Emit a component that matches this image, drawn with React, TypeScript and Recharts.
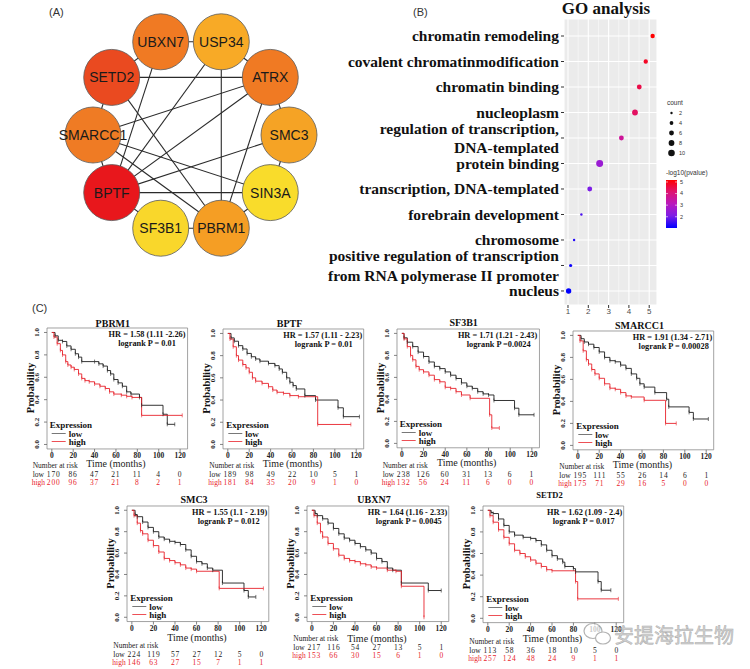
import React from 'react';
import {
  ScatterChart, Scatter, LineChart, Line, XAxis, YAxis,
  CartesianGrid, ReferenceArea, ReferenceLine,
} from 'recharts';

const SERIF = '"Liberation Serif", "Times New Roman", serif';
const SANS = '"Liberation Sans", Arial, sans-serif';
const CJK = '"Noto Sans CJK SC", sans-serif';

// ---------------- Panel A : PPI network ----------------
const geneNames = ['UBXN7', 'USP34', 'ATRX', 'SMC3', 'SIN3A', 'PBRM1', 'SF3B1', 'BPTF', 'SMARCC1', 'SETD2'];
const geneColors = ['#f07a23', '#f8aa26', '#f07a23', '#f5a325', '#f9dc2b', '#f59e24', '#f9d72b', '#e8171c', '#ef7b24', '#ea4a20'];
const geneEdges: [string, string][] = [
  ['UBXN7', 'USP34'], ['UBXN7', 'SETD2'], ['UBXN7', 'BPTF'], ['USP34', 'ATRX'], ['USP34', 'BPTF'],
  ['USP34', 'PBRM1'], ['ATRX', 'SETD2'], ['ATRX', 'SMARCC1'], ['ATRX', 'BPTF'], ['ATRX', 'PBRM1'],
  ['ATRX', 'SMC3'], ['SMC3', 'BPTF'], ['SMC3', 'SIN3A'], ['SIN3A', 'SMARCC1'], ['SIN3A', 'BPTF'],
  ['SIN3A', 'PBRM1'], ['PBRM1', 'SETD2'], ['PBRM1', 'SMARCC1'], ['PBRM1', 'SF3B1'], ['SF3B1', 'BPTF'],
  ['BPTF', 'SMARCC1'], ['SMARCC1', 'SETD2'],
];

// ---------------- Panel B : GO analysis ----------------
const goTerms = [
  'chromatin remodeling',
  'covalent chromatinmodification',
  'chromatin binding',
  'nucleoplasm',
  'regulation of transcription,\nDNA-templated',
  'protein binding',
  'transcription, DNA-templated',
  'forebrain development',
  'chromosome',
  'positive regulation of transcription\nfrom RNA polymerase II promoter',
  'nucleus',
];
const goScore = [5.17, 4.83, 4.51, 4.3, 3.63, 2.56, 2.07, 1.66, 1.3, 1.13, 1.03];
const goLogP = [5.17, 4.83, 4.51, 4.3, 3.63, 2.56, 2.07, 1.66, 1.3, 1.13, 1.03];
const goCount = [5, 5, 6, 8, 6, 11, 6, 2, 2, 3, 7];
const goXTicks = [1, 2, 3, 4, 5];
const goMinor = [1.5, 2.5, 3.5, 4.5];
const countLegend = [2, 4, 6, 8, 10];
const pLegend = [5, 4, 3, 2];

// ---------------- Panel C : Kaplan-Meier ----------------
const kmXTicks = [0, 20, 40, 60, 80, 100, 120];
const kmYTicks = [0, 0.2, 0.4, 0.6, 0.8, 1];

const pbrm1Low = [[0, 1], [3, 0.97], [6, 0.93], [10, 0.92], [14, 0.88], [18, 0.85], [22, 0.81], [25, 0.78], [28, 0.74], [40, 0.74], [44, 0.72], [48, 0.7], [52, 0.66], [55, 0.63], [58, 0.58], [62, 0.55], [66, 0.52], [70, 0.47], [74, 0.45], [82, 0.42], [84, 0.35], [104, 0.27], [108, 0.18], [115, 0.18]];
const pbrm1High = [[0, 1], [2, 0.96], [5, 0.9], [8, 0.84], [10, 0.8], [13, 0.74], [15, 0.71], [18, 0.69], [21, 0.67], [25, 0.63], [28, 0.59], [31, 0.57], [35, 0.56], [40, 0.54], [45, 0.52], [50, 0.5], [54, 0.47], [58, 0.45], [65, 0.44], [70, 0.43], [75, 0.42], [84, 0.26], [122, 0.26]];
const bptfLow = [[0, 1], [3, 0.96], [6, 0.93], [10, 0.89], [14, 0.86], [18, 0.82], [22, 0.79], [26, 0.77], [30, 0.75], [38, 0.73], [44, 0.71], [48, 0.68], [51, 0.65], [55, 0.6], [58, 0.56], [61, 0.53], [64, 0.5], [72, 0.44], [82, 0.4], [103, 0.33], [108, 0.25], [123, 0.25]];
const bptfHigh = [[0, 1], [2, 0.95], [5, 0.88], [8, 0.8], [10, 0.76], [14, 0.72], [17, 0.69], [20, 0.65], [23, 0.6], [26, 0.57], [32, 0.55], [38, 0.52], [42, 0.49], [46, 0.47], [52, 0.46], [58, 0.44], [66, 0.43], [84, 0.18], [115, 0.18]];
const sf3b1Low = [[0, 1], [2, 0.96], [5, 0.92], [10, 0.88], [15, 0.83], [20, 0.79], [25, 0.74], [30, 0.7], [35, 0.68], [40, 0.65], [45, 0.62], [50, 0.59], [55, 0.55], [60, 0.52], [65, 0.5], [70, 0.47], [75, 0.45], [80, 0.44], [85, 0.39], [104, 0.32], [108, 0.26], [122, 0.26]];
const sf3b1High = [[0, 1], [2, 0.95], [5, 0.88], [8, 0.8], [10, 0.76], [13, 0.7], [16, 0.67], [20, 0.65], [25, 0.62], [30, 0.58], [35, 0.56], [40, 0.51], [45, 0.5], [50, 0.47], [55, 0.44], [63, 0.41], [81, 0.26], [83, 0.14], [90, 0.14]];
const smarcc1Low = [[0, 1], [3, 0.97], [6, 0.94], [10, 0.92], [15, 0.89], [20, 0.85], [25, 0.8], [30, 0.77], [35, 0.76], [40, 0.73], [45, 0.7], [50, 0.65], [55, 0.61], [58, 0.56], [62, 0.53], [72, 0.48], [83, 0.42], [85, 0.35], [104, 0.3], [108, 0.24], [122, 0.24]];
const smarcc1High = [[0, 1], [2, 0.95], [5, 0.86], [8, 0.78], [10, 0.74], [13, 0.69], [16, 0.65], [20, 0.61], [25, 0.56], [30, 0.52], [35, 0.51], [40, 0.48], [45, 0.45], [50, 0.44], [62, 0.41], [82, 0.2], [92, 0.2]];
const smc3Low = [[0, 1], [3, 0.96], [5, 0.94], [10, 0.89], [15, 0.84], [20, 0.8], [25, 0.75], [30, 0.73], [35, 0.71], [40, 0.7], [45, 0.68], [50, 0.63], [55, 0.57], [60, 0.52], [65, 0.5], [70, 0.46], [75, 0.44], [84, 0.32], [104, 0.25], [108, 0.19], [115, 0.19]];
const smc3High = [[0, 1], [2, 0.95], [5, 0.88], [8, 0.81], [10, 0.78], [15, 0.72], [20, 0.67], [25, 0.61], [30, 0.55], [35, 0.53], [40, 0.51], [45, 0.49], [50, 0.46], [55, 0.45], [60, 0.43], [81, 0.27], [122, 0.27]];
const ubxn7Low = [[0, 1], [3, 0.97], [5, 0.95], [10, 0.92], [15, 0.88], [20, 0.83], [25, 0.78], [30, 0.74], [35, 0.72], [40, 0.69], [45, 0.66], [50, 0.63], [55, 0.6], [60, 0.55], [65, 0.52], [70, 0.46], [75, 0.44], [83, 0.32], [108, 0.25], [120, 0.25]];
const ubxn7High = [[0, 1], [2, 0.95], [5, 0.88], [8, 0.8], [10, 0.75], [15, 0.69], [20, 0.64], [25, 0.58], [30, 0.55], [35, 0.53], [40, 0.52], [45, 0.5], [50, 0.49], [55, 0.47], [60, 0.46], [70, 0.44], [78, 0.43], [83, 0.29], [104, 0]];
const setd2Low = [[0, 1], [3, 0.98], [5, 0.97], [10, 0.92], [15, 0.86], [20, 0.8], [25, 0.77], [33, 0.75], [40, 0.74], [45, 0.72], [50, 0.68], [55, 0.63], [60, 0.58], [65, 0.55], [70, 0.52], [72, 0.48], [80, 0.46], [82, 0.43], [103, 0.34], [106, 0.26], [115, 0.26]];
const setd2High = [[0, 1], [2, 0.95], [5, 0.89], [10, 0.82], [15, 0.75], [20, 0.69], [25, 0.63], [30, 0.6], [35, 0.57], [40, 0.54], [45, 0.51], [50, 0.48], [55, 0.45], [60, 0.44], [82, 0.34], [84, 0.18], [122, 0.18]];

const pbrm1Risk = [[170, 86, 47, 21, 11, 4, 0], [200, 96, 37, 21, 8, 2, 1]];
const bptfRisk = [[189, 98, 49, 22, 10, 5, 1], [181, 84, 35, 20, 9, 1, 0]];
const sf3b1Risk = [[238, 126, 60, 31, 13, 6, 1], [132, 56, 24, 11, 6, 0, 0]];
const smarcc1Risk = [[195, 111, 55, 26, 14, 6, 1], [175, 71, 29, 16, 5, 0, 0]];
const smc3Risk = [[224, 119, 57, 27, 12, 5, 0], [146, 63, 27, 15, 7, 1, 1]];
const ubxn7Risk = [[217, 116, 54, 27, 13, 5, 1], [153, 66, 30, 15, 6, 1, 0]];
const setd2Risk = [[113, 58, 36, 18, 10, 5, 0], [257, 124, 48, 24, 9, 1, 1]];

const kmTitles = ['PBRM1', 'BPTF', 'SF3B1', 'SMARCC1', 'SMC3', 'UBXN7', 'SETD2'];
const kmHR = [
  'HR = 1.58 (1.11 -2.26)', 'HR = 1.57 (1.11 - 2.23)', 'HR = 1.71 (1.21 - 2.43)', 'HR = 1.91 (1.34 - 2.71)',
  'HR = 1.55 (1.1 - 2.19)', 'HR = 1.64 (1.16 - 2.33)', 'HR = 1.62 (1.09 - 2.4)',
];
const kmP = [
  'logrank P = 0.01', 'logrank P = 0.01', 'logrank P =0.0024', 'logrank P = 0.00028',
  'logrank P = 0.012', 'logrank P = 0.0045', 'logrank P = 0.017',
];

// layout (pixel placement of each KM panel)
const kmLayout = [
  { x0: 51.7, x120: 180, y1: 332, y0: 444, titleY: 323, titleSize: 10, tickY: 454.5, timeY: 463, riskY: 465 },
  { x0: 228.3, x120: 356.7, y1: 333, y0: 444, titleY: 323, titleSize: 10, tickY: 454.5, timeY: 463, riskY: 465 },
  { x0: 401.7, x120: 531.7, y1: 333, y0: 443, titleY: 322, titleSize: 10, tickY: 454, timeY: 462.5, riskY: 465 },
  { x0: 578.3, x120: 706.7, y1: 335, y0: 445, titleY: 325, titleSize: 10, tickY: 455.5, timeY: 464, riskY: 466 },
  { x0: 132.3, x120: 261.7, y1: 510, y0: 617, titleY: 499, titleSize: 10, tickY: 628, timeY: 637.5, riskY: 645 },
  { x0: 312.3, x120: 441.7, y1: 510, y0: 617, titleY: 499, titleSize: 10, tickY: 628.5, timeY: 638, riskY: 638 },
  { x0: 488.3, x120: 616.7, y1: 510, y0: 618, titleY: 495, titleSize: 8.5, tickY: 629, timeY: 638, riskY: 641 },
];
const kmSeries = [
  [pbrm1Low, pbrm1High, pbrm1Risk], [bptfLow, bptfHigh, bptfRisk], [sf3b1Low, sf3b1High, sf3b1Risk],
  [smarcc1Low, smarcc1High, smarcc1Risk], [smc3Low, smc3High, smc3Risk], [ubxn7Low, ubxn7High, ubxn7Risk],
  [setd2Low, setd2High, setd2Risk],
];

// ---------------- helpers ----------------
const colorStops: [number, number[]][] = [
  [0, [0, 0, 255]], [0.25, [125, 30, 230]], [0.5, [185, 25, 190]], [0.75, [222, 20, 115]], [1, [255, 0, 0]],
];
const PMIN = 1.03, PMAX = 5.17;
function goColor(v: number) {
  const t = Math.max(0, Math.min(1, (v - PMIN) / (PMAX - PMIN)));
  for (let k = 1; k < colorStops.length; k++) {
    const [t1, c1] = colorStops[k];
    const [t0, c0] = colorStops[k - 1];
    if (t <= t1) {
      const f = (t - t0) / (t1 - t0);
      const c = c0.map((a, j) => Math.round(a + (c1[j] - a) * f));
      return `rgb(${c[0]},${c[1]},${c[2]})`;
    }
  }
  return 'rgb(255,0,0)';
}
const dotR = (count: number) => 1.2 * Math.sqrt(count) - 0.5;

// ---------------- Panel A chart ----------------
const NET_R = 98; // px per unit radius
const NET_HALF = 135;
const netD = NET_HALF / NET_R;
const netNodes = geneNames.map((name, i) => {
  const a = ((108 - 36 * i) * Math.PI) / 180;
  return { name, color: geneColors[i], x: Math.cos(a), y: Math.sin(a) };
});
const nodeByName: Record<string, any> = {};
netNodes.forEach((n) => { nodeByName[n.name] = n; });

const EmptyShape = () => <g />;
const NodeShape = (p: any) => (
  <g>
    <circle cx={p.cx} cy={p.cy} r={28} fill={p.payload.color} stroke="#5a5a5a" strokeWidth={0.8} />
    <text x={p.cx} y={p.cy} dy="0.36em" textAnchor="middle" fontFamily={SANS} fontSize={14} fill="#1a1a1a">
      {p.payload.name}
    </text>
  </g>
);

function Network() {
  return (
    <div style={{ position: 'absolute', left: 191 - NET_HALF, top: 135 - NET_HALF }}>
      <ScatterChart width={NET_HALF * 2} height={NET_HALF * 2} margin={{ top: 0, right: 0, bottom: 0, left: 0 }}>
        <XAxis type="number" dataKey="x" domain={[-netD, netD]} hide />
        <YAxis type="number" dataKey="y" domain={[-netD, netD]} hide />
        {geneEdges.map(([a, b], k) => (
          <Scatter
            key={`e${k}`}
            data={[nodeByName[a], nodeByName[b]]}
            line={{ stroke: '#2b2b2b', strokeWidth: 1.1 }}
            shape={EmptyShape}
            fill="#2b2b2b"
            isAnimationActive={false}
          />
        ))}
        <Scatter data={netNodes} shape={NodeShape} isAnimationActive={false} />
      </ScatterChart>
    </div>
  );
}

// ---------------- Panel B chart ----------------
const goData = goTerms.map((term, i) => ({ i, term, x: goScore[i], lp: goLogP[i], count: goCount[i] }));
const GoTick = (p: any) => {
  const idx = Math.round(p.payload.value);
  const lines = (goTerms[idx] || '').split('\n');
  const first = 0.35 - (lines.length - 1) * 0.625;
  return (
    <text x={p.x} y={p.y} textAnchor="end" fontFamily={SERIF} fontWeight="bold" fontSize={15.5} fill="#111">
      {lines.map((l, k) => (
        <tspan key={k} x={p.x} dy={k === 0 ? `${first}em` : '1.25em'}>{l}</tspan>
      ))}
    </text>
  );
};
const GoDot = (p: any) => (
  <circle cx={p.cx} cy={p.cy} r={dotR(p.payload.count)} fill={goColor(p.payload.lp)} />
);

const GO_LEFT = 300;
function GoChart() {
  return (
    <div style={{ position: 'absolute', left: GO_LEFT, top: 0 }}>
      <ScatterChart width={657 - GO_LEFT} height={320} margin={{ top: 19, right: 0, bottom: 0, left: 0 }}>
        <CartesianGrid fill="#ebebeb" stroke="#ffffff" strokeWidth={1.1} />
        <XAxis
          type="number" dataKey="x" domain={[0.803, 5.384]} ticks={goXTicks} interval={0}
          height={15} tickSize={3} tickMargin={0} axisLine={false}
          tickLine={{ stroke: '#333' }} tick={{ fontSize: 8, fill: '#4d4d4d', fontFamily: SANS }}
          allowDataOverflow
        />
        <YAxis
          type="number" dataKey="i" domain={[-0.667, 10.55]} reversed ticks={goTerms.map((_, i) => i)}
          interval={0} width={564 - GO_LEFT} tickSize={3} tickMargin={2} axisLine={false}
          tickLine={{ stroke: '#333' }} tick={<GoTick />} allowDataOverflow
        />
        {goMinor.map((v) => (
          <ReferenceLine key={v} x={v} stroke="#ffffff" strokeWidth={0.5} />
        ))}
        <Scatter data={goData} shape={GoDot} isAnimationActive={false} />
      </ScatterChart>
    </div>
  );
}

// ---------------- Panel C chart ----------------
const XD: [number, number] = [-4.5, 127];
const YD: [number, number] = [-0.04, 1.04];
const KM_BLACK = '#1e1e1e';
const KM_RED = '#e8232b';

const censorDot = (color: string) => (p: any) => {
  const key = `c-${p.index}`;
  if (p.index === 0 || p.cx == null) return <g key={key} />;
  return <line key={key} x1={p.cx} x2={p.cx} y1={p.cy - 2} y2={p.cy + 2} stroke={color} strokeWidth={0.6} />;
};

function KMPlot({ idx }: { idx: number }) {
  const L = kmLayout[idx];
  const [lowArr, highArr, risk] = kmSeries[idx] as any;
  const ppm = (L.x120 - L.x0) / 120;
  const ppu = L.y0 - L.y1;
  const bl = L.x0 + XD[0] * ppm;
  const br = L.x0 + XD[1] * ppm;
  const bt = L.y0 - YD[1] * ppu;
  const bb = L.y0 - YD[0] * ppu;
  const M = 26;
  const AX = 20;
  const W = br - bl + 2 * M;
  const H = bb - bt + 2 * M;
  const originY = bt - M;
  const lowData = lowArr.map((d: number[]) => ({ t: d[0], s: d[1] }));
  const highData = highArr.map((d: number[]) => ({ t: d[0], s: d[1] }));

  const XTick = (p: any) => (
    <text x={p.x} y={L.tickY - originY} dy="0.35em" textAnchor="middle" fontFamily={SERIF}
      fontWeight="bold" fontSize={7.5} fill="#222">{p.payload.value}</text>
  );
  const YTick = (p: any) => (
    <text transform={`translate(${M - 10},${p.y}) rotate(-90)`} dy="0.35em" textAnchor="middle"
      fontFamily={SERIF} fontWeight="bold" fontSize={7} fill="#222">{Number(p.payload.value).toFixed(1)}</text>
  );

  const midX = (L.x0 + L.x120) / 2;
  const midY = (L.y0 + L.y1) / 2;
  const tickX = (t: number) => L.x0 + t * ppm;

  return (
    <>
      <div style={{ position: 'absolute', left: bl - M, top: bt - M }}>
        <LineChart width={W} height={H} margin={{ top: M, right: M, bottom: M - AX, left: M - AX }}>
          <XAxis type="number" dataKey="t" domain={XD} ticks={kmXTicks} interval={0} height={AX}
            tickSize={3} axisLine={false} tickLine={{ stroke: '#666', strokeWidth: 0.8 }} tick={<XTick />} allowDataOverflow />
          <YAxis type="number" domain={YD} ticks={kmYTicks} interval={0} width={AX}
            tickSize={3} tickMargin={4} axisLine={false} tickLine={{ stroke: '#666', strokeWidth: 0.8 }} tick={<YTick />} allowDataOverflow />
          <ReferenceArea x1={XD[0]} x2={XD[1]} y1={YD[0]} y2={YD[1]} fill="none" fillOpacity={0}
            stroke="#8a8a8a" strokeWidth={0.8} ifOverflow="visible" />
          <Line data={lowData} dataKey="s" type="stepAfter" stroke={KM_BLACK} strokeWidth={0.9}
            dot={censorDot(KM_BLACK)} activeDot={false} isAnimationActive={false} />
          <Line data={highData} dataKey="s" type="stepAfter" stroke={KM_RED} strokeWidth={0.9}
            dot={censorDot(KM_RED)} activeDot={false} isAnimationActive={false} />
        </LineChart>
      </div>
      <svg width={750} height={669} style={{ position: 'absolute', left: 0, top: 0, pointerEvents: 'none' }}>
        <text x={midX - 3} y={L.titleY} dy="0.35em" textAnchor="middle" fontFamily={SERIF} fontWeight="bold"
          fontSize={L.titleSize} fill="#111">{kmTitles[idx]}</text>
        <text x={br - 2} y={L.y1 + 2} dy="0.35em" textAnchor="end" fontFamily={SERIF} fontWeight="bold"
          fontSize={8.3} fill="#111">{kmHR[idx]}</text>
        <text x={L.x120 - 33} y={L.y1 + 11} dy="0.35em" textAnchor="middle" fontFamily={SERIF} fontWeight="bold"
          fontSize={8.3} fill="#111">{kmP[idx]}</text>
        <text transform={`translate(${bl - 17},${midY}) rotate(-90)`} dy="0.35em" textAnchor="middle"
          fontFamily={SERIF} fontWeight="bold" fontSize={10.5} fill="#111">Probability</text>
        <text x={midX} y={L.timeY} dy="0.35em" textAnchor="middle" fontFamily={SERIF} fontSize={10} fill="#222">
          Time (months)
        </text>
        <text x={L.x0 - 2} y={L.y0 - 19} dy="0.35em" fontFamily={SERIF} fontWeight="bold" fontSize={9} fill="#111">
          Expression
        </text>
        <line x1={L.x0} x2={L.x0 + 14} y1={L.y0 - 10.5} y2={L.y0 - 10.5} stroke="#555" strokeWidth={0.8} />
        <line x1={L.x0} x2={L.x0 + 14} y1={L.y0 - 2.5} y2={L.y0 - 2.5} stroke={KM_RED} strokeWidth={0.8} />
        <text x={L.x0 + 17} y={L.y0 - 10.5} dy="0.35em" fontFamily={SERIF} fontWeight="bold" fontSize={9} fill="#111">low</text>
        <text x={L.x0 + 17} y={L.y0 - 2.5} dy="0.35em" fontFamily={SERIF} fontWeight="bold" fontSize={9} fill="#111">high</text>
        <text x={L.x0 - 19} y={L.riskY} dy="0.35em" fontFamily={SERIF} fontSize={7.5} fill="#222">Number at risk</text>
        <text x={L.x0 - 19} y={L.riskY + 9} dy="0.35em" fontFamily={SERIF} fontSize={7.5} fill="#222">low</text>
        <text x={L.x0 - 20} y={L.riskY + 17.5} dy="0.35em" fontFamily={SERIF} fontSize={7.5} fill={KM_RED}>high</text>
        {risk[0].map((n: number, k: number) => (
          <text key={`l${k}`} x={tickX(kmXTicks[k]) + (k === 0 ? 2 : 0)} y={L.riskY + 9} dy="0.35em" textAnchor="middle"
            fontFamily={SERIF} fontSize={7.5} letterSpacing={0.8} fill="#222">{n}</text>
        ))}
        {risk[1].map((n: number, k: number) => (
          <text key={`h${k}`} x={tickX(kmXTicks[k]) + (k === 0 ? 2 : 0)} y={L.riskY + 17.5} dy="0.35em" textAnchor="middle"
            fontFamily={SERIF} fontSize={7.5} letterSpacing={0.8} fill={KM_RED}>{n}</text>
        ))}
      </svg>
    </>
  );
}

// ---------------- static annotations ----------------
function Annotations() {
  const cbTop = 180, cbBottom = 228;
  const cbY = (v: number) => cbBottom - ((v - PMIN) / (PMAX - PMIN)) * (cbBottom - cbTop);
  return (
    <svg width={750} height={669} style={{ position: 'absolute', left: 0, top: 0, pointerEvents: 'none' }}>
      <defs>
        <linearGradient id="pgrad" x1="0" y1="1" x2="0" y2="0">
          {colorStops.map(([t, c]) => (
            <stop key={t} offset={t} stopColor={`rgb(${c[0]},${c[1]},${c[2]})`} />
          ))}
        </linearGradient>
      </defs>
      <text x={49} y={12} dy="0.35em" fontFamily={SANS} fontSize={11} fill="#333">(A)</text>
      <text x={413} y={12} dy="0.35em" fontFamily={SANS} fontSize={11} fill="#333">(B)</text>
      <text x={32} y={308} dy="0.35em" fontFamily={SANS} fontSize={11} fill="#333">(C)</text>
      <text x={606} y={8} dy="0.35em" textAnchor="middle" fontFamily={SERIF} fontWeight="bold" fontSize={17} fill="#111">
        GO analysis
      </text>
      {/* size legend */}
      <text x={667} y={103} dy="0.35em" fontFamily={SANS} fontSize={6.5} fill="#333">count</text>
      {countLegend.map((c, k) => (
        <g key={c}>
          <circle cx={671.5} cy={113 + k * 10} r={dotR(c)} fill="#111" />
          <text x={679} y={113 + k * 10} dy="0.35em" fontFamily={SANS} fontSize={5.5} fill="#333">{c}</text>
        </g>
      ))}
      {/* color legend */}
      <text x={666} y={173} dy="0.35em" fontFamily={SANS} fontSize={6.5} fill="#333">-log10(pvalue)</text>
      <rect x={666} y={cbTop} width={11} height={cbBottom - cbTop} fill="url(#pgrad)" />
      {pLegend.map((v) => (
        <g key={v}>
          <line x1={666} x2={668} y1={cbY(v)} y2={cbY(v)} stroke="#fff" strokeWidth={0.6} />
          <line x1={675} x2={677} y1={cbY(v)} y2={cbY(v)} stroke="#fff" strokeWidth={0.6} />
          <text x={680} y={cbY(v)} dy="0.35em" fontFamily={SANS} fontSize={5.5} fill="#333">{v}</text>
        </g>
      ))}
      {/* watermark */}
      <g opacity={0.75}>
        <ellipse cx={593} cy={631} rx={9} ry={7.5} fill="#fff" stroke="#9a9a9a" strokeWidth={1.2} />
        <ellipse cx={603} cy={638} rx={7.5} ry={6} fill="#fff" stroke="#9a9a9a" strokeWidth={1.2} />
        <text x={614} y={636} dy="0.35em" fontFamily={CJK} fontSize={20} fill="#c4c4c4" stroke="#8f8f8f" strokeWidth={0.5}>
          安提海拉生物
        </text>
      </g>
    </svg>
  );
}

export default function App() {
  return (
    <div style={{ position: 'absolute', left: 0, top: 0, width: 750, height: 669, background: '#fff', overflow: 'hidden' }}>
      <Network />
      <GoChart />
      {kmLayout.map((_, i) => <KMPlot key={i} idx={i} />)}
      <Annotations />
    </div>
  );
}
